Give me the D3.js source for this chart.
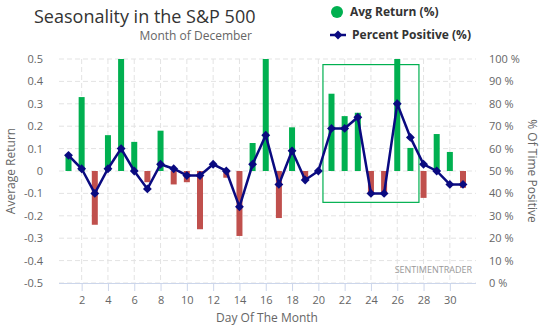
<!DOCTYPE html>
<html>
<head>
<meta charset="utf-8">
<script src="https://cdn.jsdelivr.net/npm/d3@7"></script>
<style>
  body { margin: 0; background: #fff; }
  svg { font-family: "Open Sans", sans-serif; display: block; }
</style>
</head>
<body>
<svg id="chart"></svg>
<script>
const [w, h] = [541, 326];
const m = {left: 59, right: 476, top: 59, bottom: 283};

// day of December
const days = d3.range(1, 32);
// average return (%) per day
const avgReturn = [0.07, 0.33, -0.24, 0.16, 0.5, 0.13, -0.05, 0.18, -0.06, -0.05,
                   -0.26, 0, -0.03, -0.29, 0.125, 0.5, -0.21, 0.195, -0.045, 0,
                   0.345, 0.245, 0.26, -0.1, -0.1, 0.5, 0.103, -0.12, 0.165, 0.085, -0.075];
// percent of years positive
const pctPositive = [57, 51, 40, 51, 60, 50, 42, 53, 51, 48,
                     48, 53, 50, 34, 53, 66, 44, 59, 46, 50,
                     69, 69, 74, 40, 40, 80, 65, 53, 50, 44, 44];
const leftTicks = [-0.5, -0.4, -0.3, -0.2, -0.1, 0, 0.1, 0.2, 0.3, 0.4, 0.5];
const rightTicks = [0, 10, 20, 30, 40, 50, 60, 70, 80, 90, 100];
const dayTicks = [2, 4, 6, 8, 10, 12, 14, 16, 18, 20, 22, 24, 26, 28, 30];
// highlighted window (days / return)
const boxDays = [20.35, 27.65];
const boxReturn = [0.475, -0.14];

const x = d3.scaleLinear().domain([1, 31]).range([68.5, 463]);
const yL = d3.scaleLinear().domain([-0.5, 0.5]).range([m.bottom, m.top]);
const yR = d3.scaleLinear().domain([0, 100]).range([m.bottom, m.top]);

const svg = d3.select('#chart').attr('width', w).attr('height', h);

// grid
svg.append('g')
    .selectAll('line')
    .data(leftTicks)
    .enter()
    .append('line')
        .attr('x1', m.left).attr('x2', m.right)
        .attr('y1', d => yL(d)).attr('y2', d => yL(d))
        .attr('stroke', '#e3e3e3').attr('stroke-dasharray', '5,3');
svg.append('g')
    .selectAll('line')
    .data(dayTicks)
    .enter()
    .append('line')
        .attr('x1', d => x(d)).attr('x2', d => x(d))
        .attr('y1', m.top).attr('y2', m.bottom)
        .attr('stroke', '#e3e3e3').attr('stroke-dasharray', '5,3');

// axes
const fmtL = d => d === 0 ? '0' : d.toFixed(1);
const gL = svg.append('g')
    .attr('transform', `translate(${m.left}, 0)`)
    .call(d3.axisLeft(yL).tickValues(leftTicks).tickFormat(fmtL).tickSize(0).tickPadding(16));
gL.select('.domain').remove();

const gR = svg.append('g')
    .attr('transform', `translate(${m.right}, 0)`)
    .call(d3.axisRight(yR).tickValues(rightTicks).tickFormat(d => d + ' %').tickSize(0).tickPadding(13));
gR.select('.domain').remove();

const gB = svg.append('g')
    .attr('transform', `translate(0, ${m.bottom})`)
    .call(d3.axisBottom(x).tickValues(dayTicks).tickSize(8).tickPadding(5).tickSizeOuter(0));
gB.select('.domain').attr('stroke', '#ccd6eb').attr('d', `M${m.left},0.5H${m.right}`);
gB.selectAll('.tick line').attr('stroke', '#ccd6eb');

svg.selectAll('.tick text')
    .attr('fill', '#666')
    .style('font-size', '11px')
    .style('font-family', '"Open Sans", sans-serif');

// bars
svg.append('g')
    .selectAll('rect')
    .data(days)
    .enter()
    .append('rect')
        .attr('x', d => x(d) - 3)
        .attr('width', 6)
        .attr('y', (d, i) => yL(Math.max(0, avgReturn[i])))
        .attr('height', (d, i) => Math.abs(yL(avgReturn[i]) - yL(0)))
        .attr('fill', (d, i) => avgReturn[i] >= 0 ? '#00b050' : '#c0504d');

// highlight box
svg.append('rect')
    .attr('x', x(boxDays[0]))
    .attr('y', yL(boxReturn[0]))
    .attr('width', x(boxDays[1]) - x(boxDays[0]))
    .attr('height', yL(boxReturn[1]) - yL(boxReturn[0]))
    .attr('fill', 'none')
    .attr('stroke', '#00b050')
    .attr('stroke-width', 1.2);

// line
const line = d3.line()
    .x((d, i) => x(days[i]))
    .y(d => yR(d));
svg.append('path')
    .datum(pctPositive)
    .attr('d', line)
    .attr('fill', 'none')
    .attr('stroke', '#0a0a80')
    .attr('stroke-width', 2.5);

const diamond = d3.symbol().type(d3.symbolDiamond2).size(50);
svg.append('g')
    .selectAll('path')
    .data(pctPositive)
    .enter()
    .append('path')
        .attr('d', diamond)
        .attr('transform', (d, i) => `translate(${x(days[i])}, ${yR(d)})`)
        .attr('fill', '#0a0a80');

// titles
svg.append('text')
    .attr('x', 34).attr('y', 23)
    .attr('fill', '#333')
    .style('font-size', '18px')
    .text('Seasonality in the S&P 500');
svg.append('text')
    .attr('x', 252).attr('y', 40)
    .attr('text-anchor', 'end')
    .attr('fill', '#666')
    .style('font-size', '12px')
    .text('Month of December');

svg.append('text')
    .attr('transform', `translate(15, 171) rotate(-90)`)
    .attr('text-anchor', 'middle')
    .attr('fill', '#666')
    .style('font-size', '12px')
    .text('Average Return');
svg.append('text')
    .attr('transform', `translate(528, 171) rotate(90)`)
    .attr('text-anchor', 'middle')
    .attr('fill', '#666')
    .style('font-size', '12px')
    .text('% Of Time Positive');
svg.append('text')
    .attr('x', 267).attr('y', 322)
    .attr('text-anchor', 'middle')
    .attr('fill', '#666')
    .style('font-size', '12px')
    .text('Day Of The Month');

svg.append('text')
    .attr('x', 472).attr('y', 273)
    .attr('text-anchor', 'end')
    .attr('fill', '#999')
    .style('font-size', '9px')
    .text('SENTIMENTRADER');

// legend
const lg = svg.append('g');
lg.append('circle').attr('cx', 337).attr('cy', 12).attr('r', 6).attr('fill', '#00b050');
lg.append('text').attr('x', 350).attr('y', 16)
    .attr('fill', '#333').style('font-size', '12px').style('font-weight', 'bold')
    .text('Avg Return (%)');
lg.append('line').attr('x1', 330).attr('x2', 346).attr('y1', 35).attr('y2', 35)
    .attr('stroke', '#0a0a80').attr('stroke-width', 2.5);
lg.append('path').attr('d', diamond).attr('transform', 'translate(338, 35)').attr('fill', '#0a0a80');
lg.append('text').attr('x', 352).attr('y', 39)
    .attr('fill', '#333').style('font-size', '12px').style('font-weight', 'bold')
    .text('Percent Positive (%)');
</script>
</body>
</html>
